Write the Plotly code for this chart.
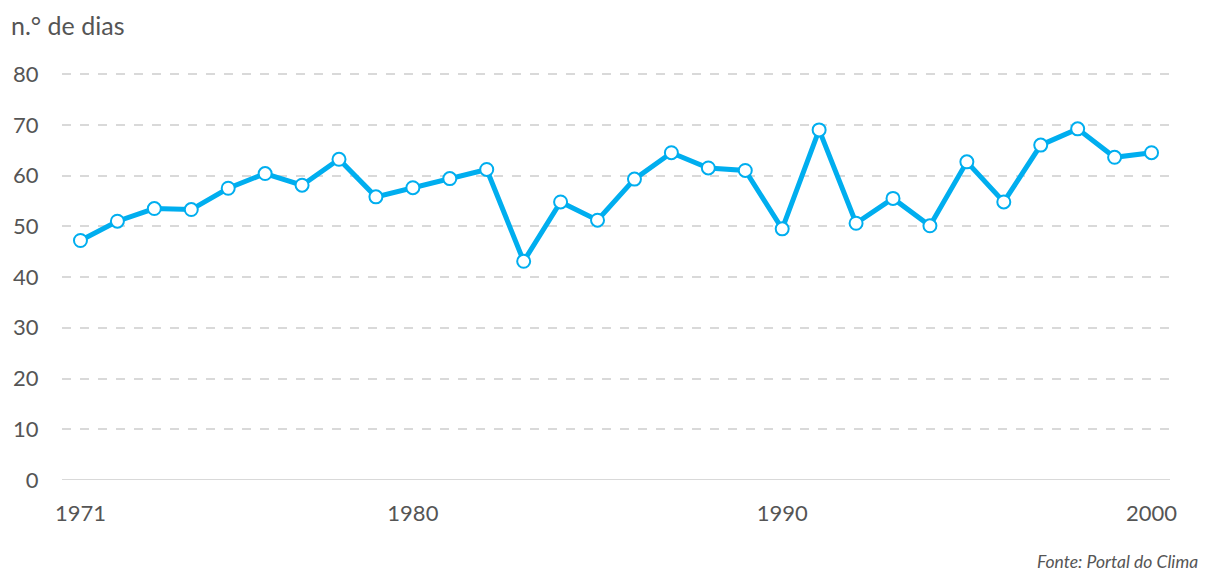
import plotly.graph_objects as go

years = list(range(1971, 2001))
dias = [47.2, 51.0, 53.5, 53.3, 57.5, 60.4, 58.1, 63.2, 55.8, 57.6,
        59.4, 61.2, 43.1, 54.8, 51.2, 59.3, 64.5, 61.5, 61.0, 49.5,
        69.0, 50.6, 55.5, 50.1, 62.7, 54.8, 66.0, 69.2, 63.6, 64.5]
x_ticks = [1971, 1980, 1990, 2000]
y_ticks = [0, 10, 20, 30, 40, 50, 60, 70, 80]

BLUE = "#00AEEF"
GREY_TXT = "#555555"

fig = go.Figure()
fig.add_trace(go.Scatter(
    x=years, y=dias, mode="lines+markers",
    line=dict(color=BLUE, width=5),
    marker=dict(size=13, color="white", line=dict(color=BLUE, width=2)),
    hoverinfo="x+y", showlegend=False, cliponaxis=False,
))

fig.update_layout(
    width=1199, height=563,
    margin=dict(l=54, r=37, t=61, b=91, autoexpand=False),
    paper_bgcolor="white", plot_bgcolor="white",
    font=dict(family="Lato, 'Open Sans', sans-serif", color=GREY_TXT, size=22),
    xaxis=dict(range=[1970.5, 2000.5], tickvals=x_ticks, ticktext=[str(v) for v in x_ticks],
               showgrid=False, zeroline=False, showline=False, automargin=False,
               ticks="outside", ticklen=14, tickcolor="rgba(0,0,0,0)",
               tickfont=dict(size=22, color=GREY_TXT)),
    yaxis=dict(range=[0, 81], tickvals=y_ticks, showgrid=True, automargin=False,
               gridcolor="#d9d9d9", gridwidth=2, griddash="dash",
               zeroline=False, showline=False, ticks="outside", ticklen=18,
               tickcolor="rgba(0,0,0,0)",
               tickfont=dict(size=22, color=GREY_TXT)),
    shapes=[dict(type="line", xref="paper", yref="y", x0=0, x1=1, y0=0, y1=0,
                 line=dict(color="#d9d9d9", width=2), layer="below")],
    annotations=[
        dict(text="n.° de dias", xref="paper", yref="paper", x=0, y=1,
             xshift=-53, yshift=44, xanchor="left", yanchor="middle", showarrow=False,
             font=dict(size=25, color=GREY_TXT)),
        dict(text="<i>Fonte: Portal do Clima</i>", xref="paper", yref="paper", x=1, y=0,
             xshift=30, yshift=-81, xanchor="right", yanchor="middle", showarrow=False,
             font=dict(size=17.5, color=GREY_TXT)),
    ],
)

fig.write_html("out.html")
